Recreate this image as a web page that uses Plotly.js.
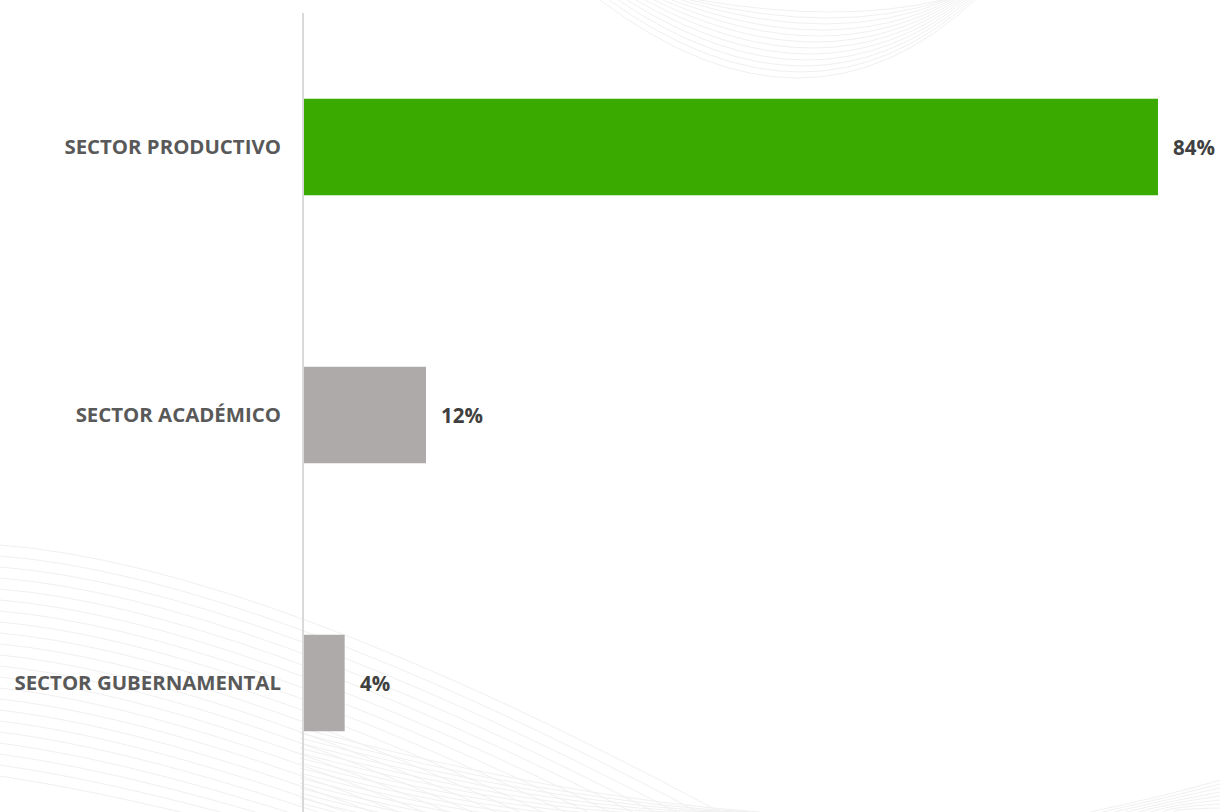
<!DOCTYPE html>
<html>
<head>
<meta charset="utf-8">
<script src="https://cdn.plot.ly/plotly-3.0.1.min.js"></script>
<style>
  html, body { margin: 0; padding: 0; background: #ffffff; }
  #wrap { position: relative; width: 1220px; height: 812px; overflow: hidden; }
  #bg { position: absolute; left: 0; top: 0; }
  #chart { position: absolute; left: 0; top: 0; width: 1220px; height: 812px; }
</style>
</head>
<body>
<div id="wrap">
  <svg id="bg" width="1220" height="812" xmlns="http://www.w3.org/2000/svg"></svg>
  <div id="chart"></div>
</div>
<script>
// ---- data ----
const categories = ["SECTOR PRODUCTIVO", "SECTOR ACADÉMICO", "SECTOR GUBERNAMENTAL"];
const values = [84, 12, 4];
const valueLabels = ["84%", "12%", "4%"];
const barColors = ["#3AAA00", "#AEAAAA", "#AEAAAA"];

// ---- decorative faint background lines ----
(function () {
  const svg = document.getElementById('bg');
  const ns = 'http://www.w3.org/2000/svg';
  function add(d) {
    const p = document.createElementNS(ns, 'path');
    p.setAttribute('d', d);
    p.setAttribute('fill', 'none');
    p.setAttribute('stroke', '#f0f0f0');
    p.setAttribute('stroke-width', '1');
    svg.appendChild(p);
  }
  // top arcs
  for (let i = 0; i < 12; i++) {
    const x0 = 600 + i * 9, x1 = 975 - i * 3, yb = 78 - i * 6;
    add('M' + x0 + ',0 Q' + ((x0 + x1) / 2 + 20) + ',' + (yb * 2) + ' ' + x1 + ',0');
  }
  // bottom-left sweep
  for (let i = 0; i < 22; i++) {
    const y0 = 545 + i * 11;
    add('M0,' + y0 + ' Q' + (260 - i * 6) + ',' + (y0 + 20) + ' ' + (720 - i * 18) + ',' + (812 + i * 2));
  }
  // bottom sweep right of axis
  for (let i = 0; i < 16; i++) {
    const y0 = 728 + i * 5;
    add('M300,' + y0 + ' Q' + (560) + ',' + (y0 + 70) + ' ' + (760 - i * 10) + ',812');
  }
  // bottom-right corner
  for (let i = 0; i < 8; i++) {
    add('M' + (1090 + i * 12) + ',812 Q' + (1170) + ',' + (795 + i * 2) + ' 1220,' + (780 + i * 4));
  }
})();

// ---- chart ----
const trace = {
  type: 'bar',
  orientation: 'h',
  y: categories,
  x: values,
  marker: { color: barColors, line: { width: 0 } },
  hoverinfo: 'none',
  showlegend: false
};

const annotations = categories.map((c, i) => ({
  x: values[i],
  y: c,
  xref: 'x',
  yref: 'y',
  text: valueLabels[i],
  showarrow: false,
  xanchor: 'left',
  yanchor: 'middle',
  xshift: 13,
  font: { family: '"Open Sans", sans-serif', size: 20.5, color: '#404040', weight: 700 }
}));

const layout = {
  width: 1220,
  height: 812,
  margin: { l: 304, r: 0, t: 13, b: 0, pad: 0 },
  paper_bgcolor: 'rgba(0,0,0,0)',
  plot_bgcolor: 'rgba(0,0,0,0)',
  bargap: 0.64,
  xaxis: {
    range: [0, 90.1],
    showgrid: false,
    zeroline: false,
    showline: false,
    showticklabels: false,
    ticks: ''
  },
  yaxis: {
    type: 'category',
    range: [2.481, -0.5],
    showgrid: false,
    zeroline: false,
    showline: true,
    linecolor: '#d9d9d9',
    linewidth: 2,
    ticks: '',
    ticklabelstandoff: 17,
    tickfont: { family: '"Open Sans", sans-serif', size: 20.4, color: '#595959', weight: 700 }
  },
  annotations: annotations
};

Plotly.newPlot('chart', [trace], layout, { displayModeBar: false, staticPlot: true });
</script>
</body>
</html>
